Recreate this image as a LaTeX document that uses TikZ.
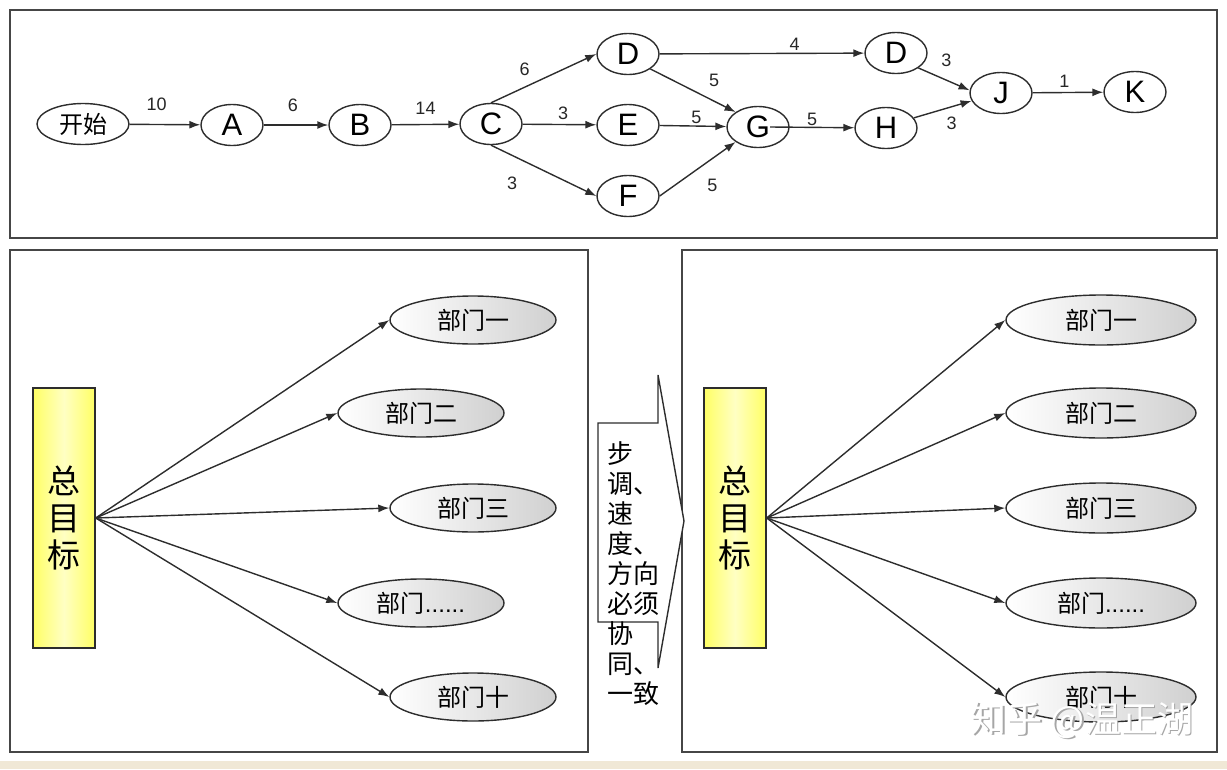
\documentclass[tikz,border=0pt]{standalone}
\usepackage{fontspec}
\setmainfont{Liberation Sans}
\newfontfamily\cjk{Noto Sans CJK SC}
\usetikzlibrary{arrows.meta, shapes.geometric}
\definecolor{linegray}{RGB}{45,45,45}
\definecolor{framegray}{RGB}{70,70,70}
\definecolor{goalyellow}{RGB}{255,255,100}
\definecolor{goalpale}{RGB}{255,255,195}
\definecolor{deptgray}{RGB}{208,208,208}
\definecolor{stripbeige}{RGB}{240,232,214}
\tikzset{
  panel/.style={draw=framegray, line width=1.8pt},
  event/.style={
    ellipse,
    draw=linegray,
    line width=1.4pt,
    fill=white,
    inner sep=0pt,
    minimum width=62pt,
    minimum height=41pt,
    font=\fontsize{31}{31}\selectfont
  },
  startev/.style={event, minimum width=92pt, font=\fontsize{24}{24}\selectfont\cjk},
  weight/.style={font=\fontsize{18}{18}\selectfont, inner sep=1pt, text=black!85},
  goal/.style={
    draw=linegray,
    line width=1.4pt,
    left color=goalyellow, right color=goalyellow, middle color=goalpale,
    minimum width=62pt,
    minimum height=260pt,
    align=center,
    font=\fontsize{33}{37}\selectfont\cjk
  },
  dept/.style={
    ellipse,
    draw=linegray,
    line width=1.4pt,
    left color=white, right color=deptgray,
    inner sep=0pt,
    minimum width=166pt,
    minimum height=48pt,
    font=\fontsize{24}{24}\selectfont\cjk
  },
  deptwide/.style={dept, minimum width=190pt, minimum height=50pt},
  blockarrow/.style={draw=linegray, line width=1.4pt, fill=white},
  arrow/.style={-{Latex[length=11pt,width=8pt]}, line width=1.4pt, draw=linegray}
}

\begin{document}
\begin{tikzpicture}[x=1pt, y=-1pt]
  \useasboundingbox (0,0) rectangle (1227,769);
  \fill[stripbeige] (0,761) rectangle (1227,769);

  % frames
  \draw[panel] (10,10) rectangle (1217,238);
  \draw[panel] (10,250) rectangle (588,752);
  \draw[panel] (682,250) rectangle (1217,752);

  % network
  \node[startev] (start) at (83,124) {开始};
  \node[event] (a) at (232,125) {A};
  \node[event] (b) at (360,125) {B};
  \node[event] (c) at (491,124) {C};
  \node[event] (d) at (628,54) {D};
  \node[event] (e) at (628,125) {E};
  \node[event] (f) at (628,196) {F};
  \node[event] (g) at (758,127) {G};
  \node[event] (d2) at (896,53) {D};
  \node[event] (h) at (886,128) {H};
  \node[event] (j) at (1001,93) {J};
  \node[event] (k) at (1135,92) {K};

  \draw[arrow] (start) -- node[weight, pos=0.38, above=12pt] {10} (a);
  \draw[arrow] (a) -- node[weight, pos=0.45, above=12pt] {6} (b);
  \draw[arrow] (b) -- node[weight, pos=0.5, above=8pt] {14} (c);
  \draw[arrow] (c.north) -- node[weight, pos=0.32, above=10pt] {6} (d.west);
  \draw[arrow] (c) -- node[weight, pos=0.55, above=3pt] {3} (e);
  \draw[arrow] (c.south) -- node[weight, pos=0.2, below=20pt] {3} (f.west);
  \draw[arrow] (d) -- node[weight, pos=0.66, above=1pt] {4} (d2);
  \draw[arrow] (d.south east) -- node[weight, pos=0.6, above right=6pt] {5} (g.north west);
  \draw[arrow] (e) -- node[weight, pos=0.55, above=1pt] {5} (g);
  \draw[arrow] (f.east) -- node[weight, pos=0.5, below right=8pt] {5} (g.south west);
  \draw[arrow] ([xshift=12pt]g.center) -- node[weight, pos=0.5, above=0pt] {5} (h);
  \draw[arrow] (d2.south east) -- node[weight, pos=0.3, above right=6pt] {3} (j.175);
  \draw[arrow] (h.20) -- node[weight, pos=0.45, below right=5pt] {3} (j.195);
  \draw[arrow] (j) -- node[weight, pos=0.45, above=3pt] {1} (k);

  % left panel
  \node[goal] (goalL) at (64,518) {总\\目\\标};
  \node[dept] (l1) at (473,320) {部门一};
  \node[dept] (l2) at (421,413) {部门二};
  \node[dept] (l3) at (473,508) {部门三};
  \node[dept] (l4) at (421,603) {部门\rmfamily......};
  \node[dept] (l5) at (473,697) {部门十};
  \draw[arrow] (goalL.east) -- (l1.west);
  \draw[arrow] (goalL.east) -- (l2.west);
  \draw[arrow] (goalL.east) -- (l3.west);
  \draw[arrow] (goalL.east) -- (l4.west);
  \draw[arrow] (goalL.east) -- (l5.west);

  % right panel
  \node[goal] (goalR) at (735,518) {总\\目\\标};
  \node[deptwide] (r1) at (1101,320) {部门一};
  \node[deptwide] (r2) at (1101,413) {部门二};
  \node[deptwide] (r3) at (1101,508) {部门三};
  \node[deptwide] (r4) at (1101,603) {部门\rmfamily......};
  \node[deptwide] (r5) at (1101,697) {部门十};
  \draw[arrow] (goalR.east) -- (r1.west);
  \draw[arrow] (goalR.east) -- (r2.west);
  \draw[arrow] (goalR.east) -- (r3.west);
  \draw[arrow] (goalR.east) -- (r4.west);
  \draw[arrow] (goalR.east) -- (r5.west);

  % block arrow between the panels
  \draw[blockarrow] (598,423) -- (658,423) -- (658,375) -- (684,521)
    -- (658,668) -- (658,622) -- (598,622) -- cycle;
  \node[anchor=north west, inner sep=0pt, align=left,
    font=\fontsize{26}{30}\selectfont\cjk] (pace) at (607,441)
    {步\\调、\\速\\度、\\方向\\必须\\协\\同、\\一致};

  % watermark
  \node[font=\fontsize{36}{36}\selectfont\cjk, text=gray!70] (markshadow) at (1083.5,721.5) {知乎 @温正湖};
  \node[font=\fontsize{36}{36}\selectfont\cjk, text=white] (mark) at (1082,720) {知乎 @温正湖};
\end{tikzpicture}
\end{document}
